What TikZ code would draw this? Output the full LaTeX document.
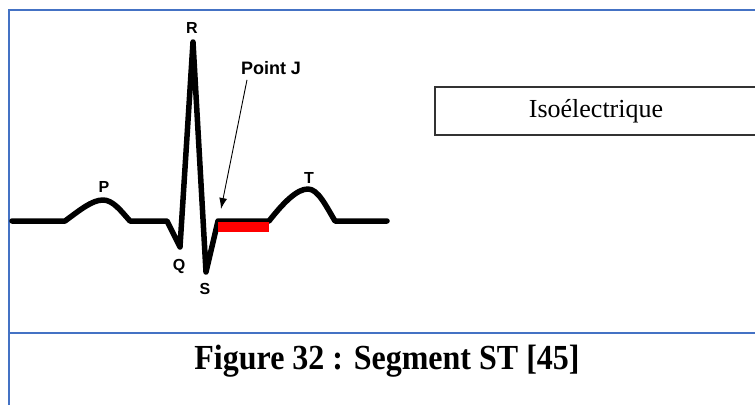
\documentclass[tikz,border=0pt]{standalone}
\usepackage{fontspec}
\setmainfont{Liberation Serif}
\setsansfont{Liberation Sans}
\usetikzlibrary{positioning, arrows.meta}
\definecolor{frame}{HTML}{4472C4}
\definecolor{trace}{HTML}{000000}
\definecolor{stseg}{HTML}{FF0000}
\tikzset{
  wave/.style={trace, line width=5.5pt, line join=round, line cap=round},
  peaklbl/.style={font=\sffamily\bfseries\fontsize{16}{16}\selectfont, inner sep=0pt},
}

\begin{document}
\begin{tikzpicture}[x=1pt, y=-1pt]
  \useasboundingbox (0,0) rectangle (755,405);
  % Frame
  \draw[frame, line width=2pt] (9,405) -- (9,10) -- (756,10);
  \draw[frame, line width=2pt] (9,333) -- (756,333);

  % ECG trace
  \draw[wave] (12,221) -- (65,221)
    .. controls (80,210) and (92,200) .. (103,200)
    .. controls (113,200) and (121,211) .. (130,221)
    -- (167,221) -- (180,247) -- (193,42) -- (206,272) -- (218,221)
    coordinate (J) -- (269,221) coordinate (Tstart)
    .. controls (284,202) and (297,189) .. (308,189)
    .. controls (318,189) and (326,206) .. (335,221) -- (387,221);
  % ST segment
  \draw[stseg, line width=10pt] (J) ++(0,5.5) coordinate (stA) -- (stA -| Tstart);

  % Waves
  \node[peaklbl] (pR) at (192,28) {R};
  \node[peaklbl] (pP) at (104,187) {P};
  \node[peaklbl] (pQ) at (179,266) {Q};
  \node[peaklbl] (pS) at (205,289) {S};
  \node[peaklbl] (pT) at (309,178) {T};

  % Point J
  \node[font=\sffamily\bfseries\fontsize{18}{18}\selectfont, inner sep=1pt] (ptJ) at (271,68) {Point J};
  \coordinate (Jtip) at (221,209);
  \draw[-{Latex[length=11pt, width=8pt]}, line width=0.9pt] (ptJ.south -| 247,0) ++(0,4) -- (Jtip);

  % Label box
  \node[draw=black!80, line width=1.5pt, minimum width=322pt, minimum height=48pt,
        font=\fontsize{26}{26}\selectfont, inner sep=0pt] (iso) at (596,111) {Isoélectrique};

  % Caption
  \node[font=\bfseries\fontsize{32}{32}\selectfont, inner sep=0pt] (cap) at (387,361) {\scalebox{1}[1.1]{Figure 32 : Segment ST [45]}};
\end{tikzpicture}
\end{document}
